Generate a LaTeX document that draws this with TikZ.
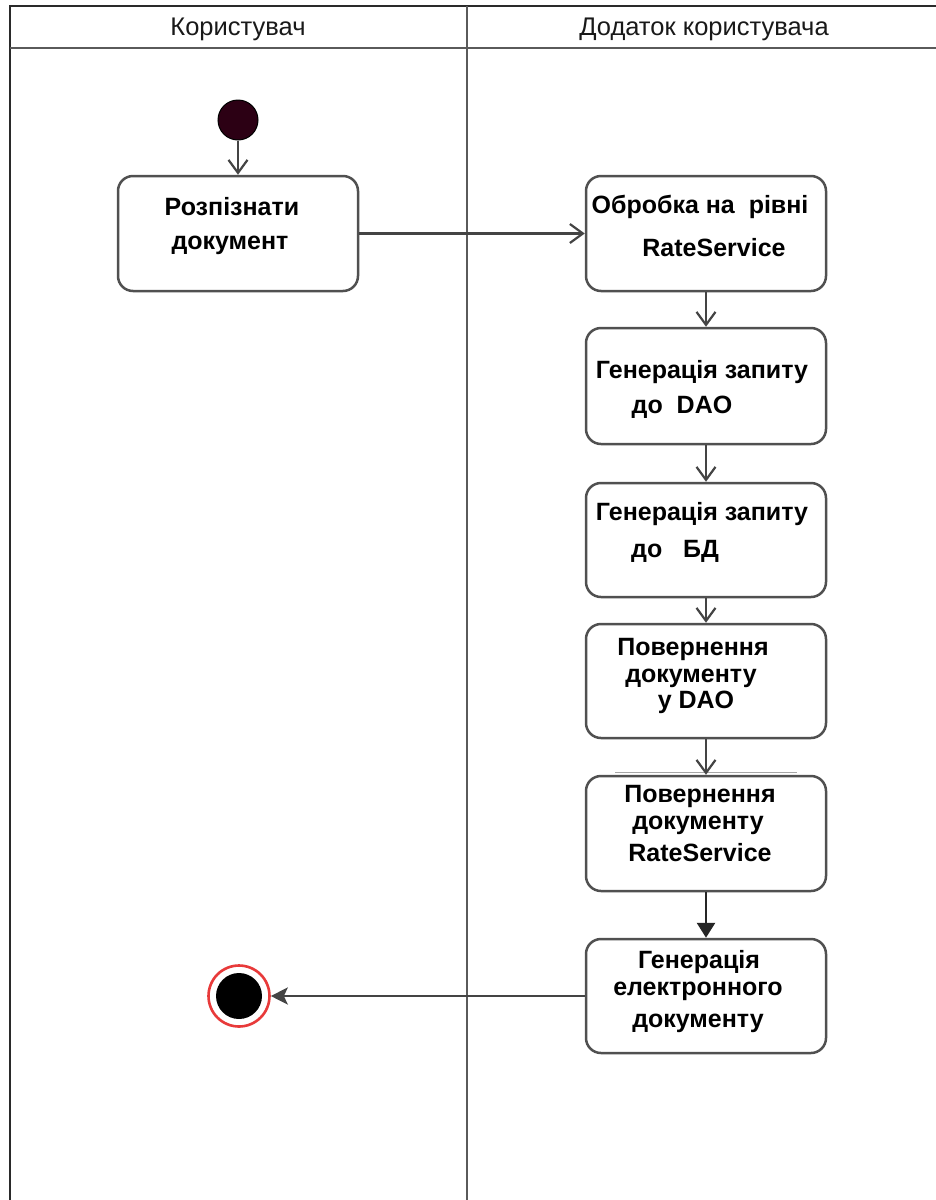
\documentclass[tikz,border=0pt]{standalone}
\usepackage{fontspec}
\setmainfont{Liberation Sans}
\usetikzlibrary{arrows.meta}
\definecolor{framegray}{HTML}{2A2A2A}
\definecolor{lanegray}{HTML}{5A5A5A}
\definecolor{boxgray}{HTML}{505050}
\definecolor{flowgray}{HTML}{444444}
\definecolor{startfill}{HTML}{2C0014}
\definecolor{endring}{HTML}{E83A3A}
\begin{document}
\begin{tikzpicture}[x=1pt,y=-1pt,
  frame/.style={draw=framegray, line width=2pt},
  lane/.style={draw=lanegray, line width=2.4pt},
  header/.style={font=\fontsize{25.5}{28}\selectfont, text=black!90, inner sep=0pt},
  actbox/.style={draw=boxgray, line width=2.5pt, rounded corners=15pt,
    minimum width=240pt, minimum height=115pt, inner sep=0pt, fill=white},
  txt/.style={font=\bfseries\fontsize{25}{30}\selectfont, text=black,
    inner sep=0pt, anchor=base},
  flow/.style={draw=flowgray, line width=2.4pt,
    -{Straight Barb[length=13pt,width=19pt,line width=2.2pt]}},
  strongflow/.style={draw=black!85, line width=2.8pt,
    -{Triangle[length=15pt,width=18pt]}},
  finalflow/.style={draw=flowgray, line width=2.8pt,
    -{Stealth[length=17pt,width=17pt,inset=4pt]}}]

\useasboundingbox (0,0) rectangle (936,1200);
\fill[white] (0,0) rectangle (936,1200);

% swimlane frame
\coordinate (tl) at (10,6);
\coordinate (tr) at (936,6);
\coordinate (hl) at (10,48);
\coordinate (hr) at (936,48);
\coordinate (bl) at (10,1200);
\coordinate (dtop) at (467,6);
\coordinate (dbot) at (467,1200);
\draw[frame] (bl) -- (tl) -- (tr);
\draw[lane] (hl) -- (hr);
\draw[lane] (dtop) -- (dbot);

\node[header] (laneA) at (238,29) {Користувач};
\node[header] (laneB) at (704,29) {Додаток користувача};

% start and end states
\node[circle, draw=black, line width=1pt, fill=startfill, minimum size=40pt,
  inner sep=0pt] (start) at (238,120) {};
\node[circle, draw=endring, line width=2.6pt, fill=white, minimum size=61pt,
  inner sep=0pt] (endouter) at (239,996) {};
\node[circle, fill=black, minimum size=46pt, inner sep=0pt] (endinner) at (239,996) {};

% activities
\node[actbox] (b1) at (238,233.5) {};
\node[actbox] (b2) at (706,233.5) {};
\node[actbox, minimum height=116pt] (b3) at (706,386) {};
\node[actbox, minimum height=114pt] (b4) at (706,540) {};
\node[actbox, minimum height=114pt] (b5) at (706,681) {};
\node[actbox] (b6) at (706,833.5) {};
\node[actbox, minimum height=114pt] (b7) at (706,996) {};

\node[txt] (b1a) at (232,215) {Розпізнати};
\node[txt] (b1b) at (230,249) {документ};

\node[txt] (b2a) at (700,213) {Обробка на \ рівні};
\node[txt] (b2b) at (714,256) {RateService};

\node[txt] (b3a) at (702,378) {Генерація запиту};
\node[txt] (b3b) at (682,413) {до \ DAO};

\node[txt] (b4a) at (702,520) {Генерація запиту};
\node[txt] (b4b) at (675,557) {до \ \ БД};

\node[txt] (b5a) at (693,655) {Повернення};
\node[txt] (b5b) at (691,682) {документу};
\node[txt] (b5c) at (696,708) {у DAO};

\node[txt] (b6a) at (700,802) {Повернення};
\node[txt] (b6b) at (698,829) {документу};
\node[txt] (b6c) at (700,861) {RateService};

\node[txt] (b7a) at (699,968) {Генерація};
\node[txt] (b7b) at (698,995) {електронного};
\node[txt] (b7c) at (698,1027) {документу};

% faint rule above the sixth activity
\coordinate (ruleL) at (615,772);
\coordinate (ruleR) at (797,772);
\draw[black!35, line width=0.8pt] (ruleL) -- (ruleR);

% control flow
\draw[flow] (start) -- (b1);
\draw[flow] (b1.east) -- (b2.west);
\draw[flow] (b2) -- (b3);
\draw[flow] (b3) -- (b4);
\draw[flow] (b4) -- (b5);
\draw[flow] (b5) -- (b6);
\draw[strongflow] (b6) -- (b7);
\draw[finalflow] (b7.west) -- (endouter.east);
\end{tikzpicture}
\end{document}
